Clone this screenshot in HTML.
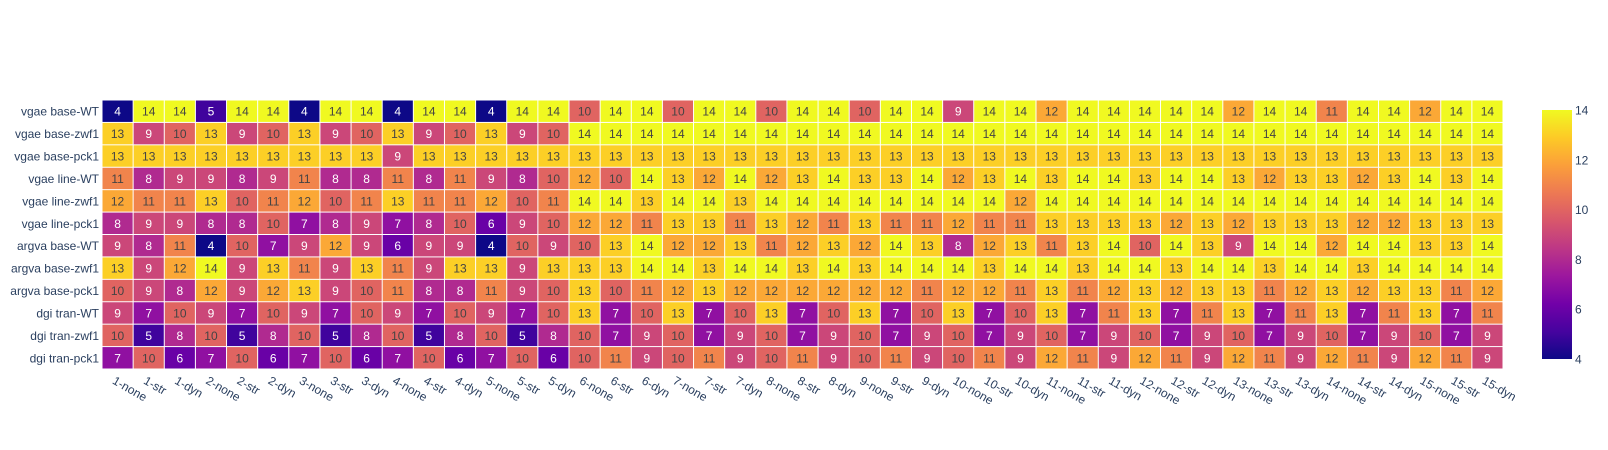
<!DOCTYPE html>
<html><head><meta charset="utf-8">
<style>
html,body{margin:0;padding:0;background:#fff;}
svg{display:block;font-family:"Liberation Sans",Arial,sans-serif;}
</style></head>
<body>
<svg id="chart" width="1608" height="450" viewBox="0 0 1608 450" xmlns="http://www.w3.org/2000/svg">
<defs>
<linearGradient id="plasma" x1="0" y1="1" x2="0" y2="0">
<stop offset="0" stop-color="#0d0887"/><stop offset="0.111" stop-color="#46039f"/><stop offset="0.222" stop-color="#7201a8"/><stop offset="0.333" stop-color="#9c179e"/><stop offset="0.444" stop-color="#bd3786"/><stop offset="0.556" stop-color="#d8576b"/><stop offset="0.667" stop-color="#ed7953"/><stop offset="0.778" stop-color="#fb9f3a"/><stop offset="0.889" stop-color="#fdca26"/><stop offset="1" stop-color="#f0f921"/>
</linearGradient>
</defs>
<g id="cells"></g>
<g id="ylabels"></g>
<g id="xlabels"></g>
<g id="cbar"></g>
</svg>
<script>
const rowLabels = ["vgae base-WT","vgae base-zwf1","vgae base-pck1","vgae line-WT","vgae line-zwf1","vgae line-pck1","argva base-WT","argva base-zwf1","argva base-pck1","dgi tran-WT","dgi tran-zwf1","dgi tran-pck1"];
const colLabels = [];
for (let i = 1; i <= 15; i++) { colLabels.push(i+"-none", i+"-str", i+"-dyn"); }
const zRow0 = [4,14,14,5,14,14,4,14,14,4,14,14,4,14,14,10,14,14,10,14,14,10,14,14,10,14,14,9,14,14,12,14,14,14,14,14,12,14,14,11,14,14,12,14,14];
const zRow1 = [13,9,10,13,9,10,13,9,10,13,9,10,13,9,10,14,14,14,14,14,14,14,14,14,14,14,14,14,14,14,14,14,14,14,14,14,14,14,14,14,14,14,14,14,14];
const zRow2 = [13,13,13,13,13,13,13,13,13,9,13,13,13,13,13,13,13,13,13,13,13,13,13,13,13,13,13,13,13,13,13,13,13,13,13,13,13,13,13,13,13,13,13,13,13];
const zRow3 = [11,8,9,9,8,9,11,8,8,11,8,11,9,8,10,12,10,14,13,12,14,12,13,14,13,13,14,12,13,14,13,14,14,13,14,14,13,12,13,13,12,13,14,13,14];
const zRow4 = [12,11,11,13,10,11,12,10,11,13,11,11,12,10,11,14,14,13,14,14,13,14,14,14,14,14,14,14,14,12,14,14,14,14,14,14,14,14,14,14,14,14,14,14,14];
const zRow5 = [8,9,9,8,8,10,7,8,9,7,8,10,6,9,10,12,12,11,13,13,11,13,12,11,13,11,11,12,11,11,13,13,13,13,12,13,12,13,13,13,12,12,13,13,13];
const zRow6 = [9,8,11,4,10,7,9,12,9,6,9,9,4,10,9,10,13,14,12,12,13,11,12,13,12,14,13,8,12,13,11,13,14,10,14,13,9,14,14,12,14,14,13,13,14];
const zRow7 = [13,9,12,14,9,13,11,9,13,11,9,13,13,9,13,13,13,14,14,13,14,14,13,14,13,14,14,14,13,14,14,13,14,14,13,14,14,13,14,14,13,14,14,14,14];
const zRow8 = [10,9,8,12,9,12,13,9,10,11,8,8,11,9,10,13,10,11,12,13,12,12,12,12,12,12,11,12,12,11,13,11,12,13,12,13,13,11,12,13,12,13,13,11,12];
const zRow9 = [9,7,10,9,7,10,9,7,10,9,7,10,9,7,10,13,7,10,13,7,10,13,7,10,13,7,10,13,7,10,13,7,11,13,7,11,13,7,11,13,7,11,13,7,11];
const zRow10 = [10,5,8,10,5,8,10,5,8,10,5,8,10,5,8,10,7,9,10,7,9,10,7,9,10,7,9,10,7,9,10,7,9,10,7,9,10,7,9,10,7,9,10,7,9];
const zRow11 = [7,10,6,7,10,6,7,10,6,7,10,6,7,10,6,10,11,9,10,11,9,10,11,9,10,11,9,10,11,9,12,11,9,12,11,9,12,11,9,12,11,9,12,11,9];
const zRows = [zRow0,zRow1,zRow2,zRow3,zRow4,zRow5,zRow6,zRow7,zRow8,zRow9,zRow10,zRow11];
const cbTicks = [4,6,8,10,12,14];

const NS = "http://www.w3.org/2000/svg";
const X0 = 102, X1 = 1503, Y0 = 100, Y1 = 369;
const zmin = 4, zmax = 14;
const cw = (X1 - X0) / colLabels.length, ch = (Y1 - Y0) / rowLabels.length;
const xPos = i => X0 + i * cw;
const yPos = j => Y0 + j * ch;
const stops = [[0,[13,8,135]],[0.111,[70,3,159]],[0.222,[114,1,168]],[0.333,[156,23,158]],[0.444,[189,55,134]],[0.556,[216,87,107]],[0.667,[237,121,83]],[0.778,[251,159,58]],[0.889,[253,202,38]],[1,[240,249,33]]];
function color(v){
  const t = Math.max(0, Math.min(1, (v - zmin) / (zmax - zmin)));
  for (let k = 1; k < stops.length; k++) {
    if (t <= stops[k][0]) {
      const a = stops[k-1], b = stops[k], f = (t - a[0]) / (b[0] - a[0]);
      return "rgb(" + a[1].map((c, i) => Math.round(c + (b[1][i] - c) * f)).join(",") + ")";
    }
  }
  return "rgb(240,249,33)";
}
function mk(tag, attrs){ const e = document.createElementNS(NS, tag); for (const k in attrs) e.setAttribute(k, attrs[k]); return e; }

const cells = document.getElementById("cells");
zRows.forEach((row, j) => {
  row.forEach((v, i) => {
    const r = mk("rect", {x: xPos(i) + 0.5, y: yPos(j) + 0.5, width: cw - 1, height: ch - 1, fill: color(v)});
    
    
    cells.appendChild(r);
    const t = mk("text", {x: xPos(i) + cw / 2, y: yPos(j) + ch / 2 + 4.5, "text-anchor": "middle", "font-size": "12", fill: ((v - zmin) / (zmax - zmin) < 0.55) ? "#ffffff" : "#444444"});
    
    
    t.textContent = v;
    cells.appendChild(t);
  });
});

const yl = document.getElementById("ylabels");
rowLabels.forEach((lab, j) => {
  const t = mk("text", {x: X0 - 3, y: yPos(j) + ch / 2 + 4.5, "text-anchor": "end", "font-size": "12", fill: "#2a3f5f"});
  
  
  t.textContent = lab;
  yl.appendChild(t);
});

const xl = document.getElementById("xlabels");
colLabels.forEach((lab, i) => {
  const cx = xPos(i) + cw / 2 - 6, cy = Y1 + 14;
  const t = mk("text", {x: cx, y: cy, "text-anchor": "start", "font-size": "12", fill: "#2a3f5f", transform: "rotate(30 " + cx + " " + cy + ")"});
  
  
  t.textContent = lab;
  xl.appendChild(t);
});

const cb = document.getElementById("cbar");
const CBX = 1542, CBW = 30, CBT = 110, CBB = 359;
const bar = mk("rect", {x: CBX, y: CBT, width: CBW, height: CBB - CBT, fill: "url(#plasma)"});


cb.appendChild(bar);
cbTicks.forEach(v => {
  const y = CBB - (v - zmin) / (zmax - zmin) * (CBB - CBT);
  const t = mk("text", {x: CBX + CBW + 3, y: y + 4.5, "font-size": "12", fill: "#2a3f5f"});
  
  
  t.textContent = v;
  cb.appendChild(t);
});
</script>
</body></html>
